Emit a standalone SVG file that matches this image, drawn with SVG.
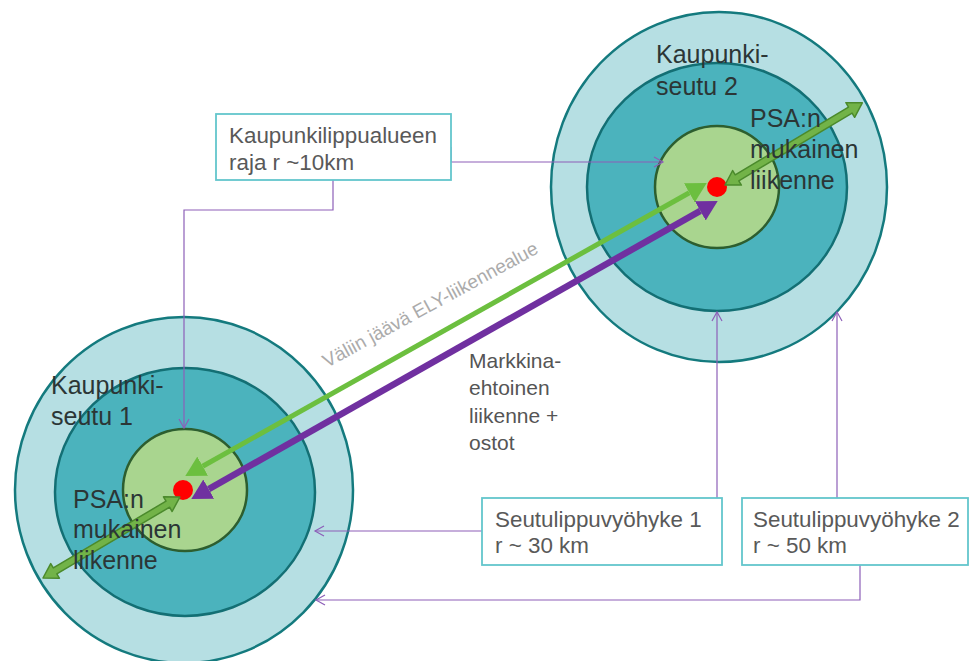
<svg xmlns="http://www.w3.org/2000/svg" width="970" height="661" viewBox="0 0 970 661">
<defs>
<style>
.outer{fill:#b6dfe3;stroke:#147a7e;stroke-width:2.5}
.middle{fill:#4bb3bd;stroke:#136f74;stroke-width:2.5}
.inner{fill:#a9d58f;stroke:#2d5e2f;stroke-width:2.5}
.dot{fill:#ff0000}
.conn{fill:none;stroke:#8d5fb8;stroke-width:1.2}
.box{fill:#ffffff;stroke:#63c6cc;stroke-width:1.8}
.boxtxt{font-family:"Liberation Sans",Arial,sans-serif;font-size:22.4px;fill:#595959}
.big{font-family:"Liberation Sans",Arial,sans-serif;font-size:25px;fill:#2b3636}
.mid{font-family:"Liberation Sans",Arial,sans-serif;font-size:21px;fill:#555555}
.rot{font-family:"Liberation Sans",Arial,sans-serif;font-size:19px;fill:#ababab}
.psa{fill:#72b348;stroke:#4b8a2c;stroke-width:1.5;stroke-linejoin:round}
</style>
<marker id="open" markerUnits="userSpaceOnUse" markerWidth="14" markerHeight="14" viewBox="-11 -7 14 14" refX="0" refY="0" orient="auto">
<path d="M-9,-5 L0,0 L-9,5" fill="none" stroke="#8d5fb8" stroke-width="1.2"/>
</marker>
<marker id="gh" markerUnits="userSpaceOnUse" markerWidth="20" markerHeight="22" viewBox="0 0 20 22" refX="0" refY="11" orient="auto-start-reverse">
<path d="M0,0 L20,11 L0,22 z" fill="#6cbf3f"/>
</marker>
<marker id="ph" markerUnits="userSpaceOnUse" markerWidth="20" markerHeight="22" viewBox="0 0 20 22" refX="0" refY="11" orient="auto-start-reverse">
<path d="M0,0 L20,11 L0,22 z" fill="#7030a0"/>
</marker>
</defs>

<g id="region1">
<ellipse class="outer" cx="184" cy="490" rx="169" ry="173"/>
<ellipse class="middle" cx="185" cy="492" rx="130" ry="124"/>
<ellipse class="inner" cx="185" cy="490" rx="62" ry="61"/>
<circle class="dot" cx="183" cy="490" r="10"/>
</g>

<g id="region2">
<ellipse class="outer" cx="719" cy="187" rx="168" ry="175"/>
<ellipse class="middle" cx="717" cy="187" rx="130" ry="124"/>
<ellipse class="inner" cx="717" cy="187" rx="62" ry="61"/>
<circle class="dot" cx="717" cy="187" r="10"/>
</g>

<g id="connectors">
<path class="conn" d="M333,180 V210 H184 V428" marker-end="url(#open)"/>
<path class="conn" d="M451,147 V162 H663" marker-end="url(#open)"/>
<path class="conn" d="M482,531 H315" marker-end="url(#open)"/>
<path class="conn" d="M717,498 V312" marker-end="url(#open)"/>
<path class="conn" d="M837,498 V312" marker-end="url(#open)"/>
<path class="conn" d="M860,565 V600 H316" marker-end="url(#open)"/>
<line x1="202.7" y1="466.2" x2="689.3" y2="192.8" stroke="#6cbf3f" stroke-width="5" marker-start="url(#gh)" marker-end="url(#gh)"/>
<line x1="208.7" y1="489.1" x2="700.3" y2="210.9" stroke="#7030a0" stroke-width="6.5" marker-start="url(#ph)" marker-end="url(#ph)"/>
<polygon class="psa" transform="translate(725,185) rotate(-30.9)" points="0,0 14,-8.5 14,-3.5 146,-3.5 146,-8.5 160,0 146,8.5 146,3.5 14,3.5 14,8.5"/>
<polygon class="psa" transform="translate(43,578) rotate(-30.6)" points="0,0 14,-8.5 14,-3.5 145,-3.5 145,-8.5 159,0 145,8.5 145,3.5 14,3.5 14,8.5"/>
</g>

<g id="box1">
<rect class="box" x="216" y="114" width="235" height="66"/>
<text class="boxtxt" x="229" y="143">Kaupunkilippualueen</text>
<text class="boxtxt" x="229" y="170">raja r ~10km</text>
</g>

<g id="box2">
<rect class="box" x="482" y="498" width="240" height="67"/>
<text class="boxtxt" x="495" y="527">Seutulippuvyöhyke 1</text>
<text class="boxtxt" x="495" y="553">r ~ 30 km</text>
</g>

<g id="box3">
<rect class="box" x="742" y="498" width="226" height="67"/>
<text class="boxtxt" x="753" y="527">Seutulippuvyöhyke 2</text>
<text class="boxtxt" x="753" y="553">r ~ 50 km</text>
</g>

<g id="labels">
<text class="big" x="656" y="63">Kaupunki-</text>
<text class="big" x="656" y="95">seutu 2</text>
<text class="big" x="750" y="127">PSA:n</text>
<text class="big" x="750" y="158">mukainen</text>
<text class="big" x="750" y="189">liikenne</text>
<text class="big" x="51" y="394">Kaupunki-</text>
<text class="big" x="51" y="425">seutu 1</text>
<text class="big" x="73" y="508">PSA:n</text>
<text class="big" x="73" y="538">mukainen</text>
<text class="big" x="73" y="569">liikenne</text>
<text class="mid" x="469" y="368">Markkina-</text>
<text class="mid" x="469" y="395">ehtoinen</text>
<text class="mid" x="469" y="423">liikenne +</text>
<text class="mid" x="469" y="450">ostot</text>
<text class="rot" transform="translate(327,368) rotate(-28.5)">Väliin jäävä ELY-liikennealue</text>
</g>
</svg>
